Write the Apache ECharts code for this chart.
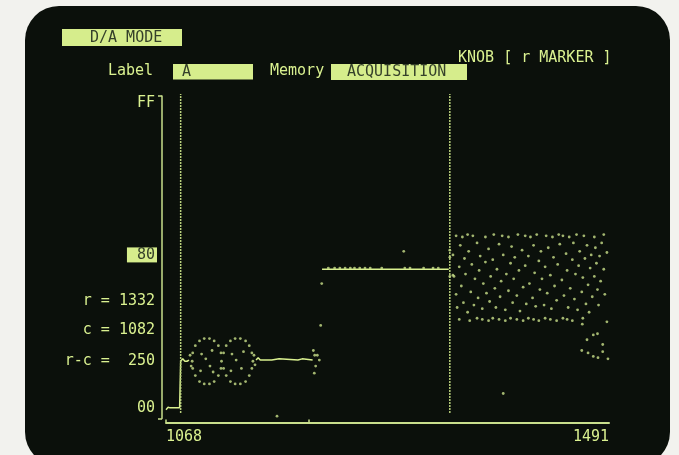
<!DOCTYPE html>
<html><head><meta charset="utf-8">
<script src="https://cdn.jsdelivr.net/npm/echarts@6/dist/echarts.min.js"></script>
<style>html,body{margin:0;padding:0;background:#f2f2ee;}#c{width:679px;height:455px;}</style>
</head><body><div id="c"></div>
<script>
// ---- data ----
const xLabelValues = [1068, 1491];
const xTickValues = [1068, 1204];
const yLabelValues = [0, 128, 255];
const yLabelTexts = ['00', '80', 'FF'];
const yEndTicks = [-9, 261];
const cursorC = 1082;
const cursorR = 1339;
const cursorSpan = [-4.4, 262.6];
const readouts = ['r = 1332', 'c = 1082', 'r-c =  250'];

const traceLow = [[1068,-1.5],[1069,-1],[1070,0.5],[1071,1],[1072,0],[1073,0],[1081,0],[1082,39],[1083,40],[1084,41],[1085,40],[1086,39],[1088,39],[1090,40]];
const traceMid = [[1154,40],[1155,41],[1156,42],[1157,41],[1158,40],[1169,40],[1170,41],[1176,41],[1177,40],[1194,40],[1195,41],[1198,41],[1199,40],[1208,40]];
const traceHigh = [[1217,116],[1338,116]];
const bumpsHigh = [[1223,117],[1229,117],[1234,117],[1239,117],[1244,117],[1248,117],[1253,117],[1258,117],[1263,117],[1274,117],[1296,117],[1301,117],[1314,117],[1323,117],[1328,117]];

const cloudLeft = [[1091,44],[1092,35],
 [1121,39],[1120.5,46],[1118,52],[1114,56],[1109.5,58],[1104.5,58],[1100,56],[1096,52],[1093.5,46],[1093,39],[1093.5,33],[1096,27],[1100,22],[1104.5,20],[1109.5,20],[1114,22],[1118,27],[1120.5,33],
 [1150,46],[1147.5,52],[1144,56],[1139,58],[1134,58],[1129.5,56],[1125.5,52],[1123,46],[1123,33],[1125.5,27],[1129.5,22],[1134,20],[1139,20],[1144,22],[1147.5,27],[1150,33],[1151,39],
 [1102,45],[1106,41],[1110,35],[1113,30],[1101,31],[1112,48],[1131,45],[1135,40],[1140,33],[1130,31],[1142,47],
 [1152,44],[1153,36]];
const transitionDots = [[1208.7,48],[1210,44],[1212.5,44],[1214.4,40],[1210.9,35],[1209.6,29],[1215.7,69],[1216.7,104],
 [1339,132],[1339,126],[1339,110],[1342,111]];
const cloudRight = [
 [1345,144],[1351,143],[1356,145],[1361,144],[1373,143],[1381,145],[1389,144],[1395,143],[1404,145],[1411,144],[1416,143],[1422,145],[1431,144],[1437,143],[1443,145],[1447,144],[1453,143],[1460,145],[1467,144],[1477,143],[1486,145],
 [1348,74],[1358,73],[1365,75],[1370,74],[1376,73],[1380,75],[1386,74],[1392,73],[1397,75],[1403,74],[1409,73],[1414,75],[1419,74],[1424,73],[1430,75],[1435,74],[1441,73],[1447,75],[1451,74],[1456,73],[1466,75],[1489,72],
 [1342,128],[1343,110],[1345,95],[1346,84],[1348,118],[1349,136],[1350,102],[1352,88],[1353,125],[1354,112],[1356,80],[1357,131],[1359,97],[1360,120],[1362,86],[1363,108],[1365,138],[1366,92],[1367,115],[1368,127],[1370,83],[1371,104],[1373,122],[1374,96],[1376,133],[1377,89],[1378,110],[1380,124],[1382,100],[1383,84],[1384,116],[1386,137],[1387,93],[1388,106],[1390,128],[1392,82],[1393,112],[1395,98],[1397,121],[1398,135],[1399,88],[1400,108],[1401,126],[1403,94],[1405,115],[1406,81],[1408,132],[1409,101],[1411,119],[1412,87],[1414,127],[1415,104],[1418,92],[1419,136],[1420,113],[1421,85],[1424,123],[1425,99],[1426,131],[1427,108],[1429,86],[1430,118],[1432,96],[1433,134],[1435,111],[1436,83],[1438,126],[1439,102],[1441,90],[1442,120],[1444,137],[1446,107],[1448,94],[1450,129],[1451,115],[1452,84],[1454,100],[1456,124],[1457,138],[1458,91],[1459,112],[1461,82],[1462,119],[1463,131],[1465,97],[1466,109],[1468,125],[1469,87],[1470,136],[1471,103],[1472,80],[1473,117],[1474,128],[1475,93],[1477,110],[1478,134],[1479,121],[1480,99],[1481,86],[1482,127],[1483,106],[1484,138],[1486,116],[1487,95],[1489,130]];
const cloudLow = [[1470,57],[1476,61],[1480,62],[1485,53],[1465,48],[1471,46],[1476,43],[1480.5,42],[1485,47],[1490,41],[1465.5,70]];
const glitches = [[1174,-7],[1390,12],[1295,131]];

// ---- drawing ----
const FONT = '15px "DejaVu Sans Mono", monospace';
const GREEN = '#daf190';
const DOT = '#c9e08a';
const BOXFILL = '#d6ed8c';
const BOXTEXT = '#35402a';
const SCREEN = '#0b100b';

function txt(t, x, y, align, fill) {
  return {type:'text', z:5, silent:true, style:{text:t, x:x, y:y, fill:fill||GREEN, font:FONT, textAlign:align||'left', textVerticalAlign:'middle'}};
}
function box(x, y, w, h) {
  return {type:'rect', z:4, silent:true, shape:{x:x, y:y, width:w, height:h}, style:{fill:BOXFILL}};
}
const graphics = [
  {type:'rect', z:-100, silent:true, shape:{x:25, y:6, width:645, height:460, r:34}, style:{fill:SCREEN}},
  box(62,29,120,17), txt('D/A MODE', 90, 38, 'left', BOXTEXT),
  txt('Label', 108, 71.5),
  box(173,64,80,15.5), txt('A', 182, 72, 'left', BOXTEXT),
  txt('Memory', 270, 71.5),
  box(331,64,136,16), txt('ACQUISITION', 347, 72, 'left', BOXTEXT),
  txt('KNOB [ r MARKER ]', 458, 58),
  txt(readouts[0], 155, 301.5, 'right'),
  txt(readouts[1], 155, 330.5, 'right'),
  txt(readouts[2], 155, 361.5, 'right')
];

function cursorSeries(name, x) {
  return {
    type:'line', name:name, clip:false, silent:true, z:4, showSymbol:false, symbol:'none',
    data:[[x, cursorSpan[0]], {value:[x, cursorSpan[1]], label:{show:true, position:'top', distance:0, offset:[0,4], formatter:name, color:GREEN, fontFamily:'DejaVu Sans Mono', fontSize:15}}],
    lineStyle:{color:'#b9d07c', width:1.5, type:[2,1]},
    animation:false
  };
}
function lineSeries(data) {
  return {type:'line', data:data, showSymbol:false, symbol:'none', clip:false, silent:true, z:3, lineStyle:{color:GREEN, width:1.5}};
}
function dotSeries(data) {
  return {type:'scatter', data:data, symbolSize:2.8, clip:false, silent:true, z:3, itemStyle:{color:DOT}};
}

const chart = echarts.init(document.getElementById('c'), null, {width:679, height:455});
chart.setOption({
  animation:false,
  backgroundColor:'#f2f2ee',
  graphic:graphics,
  grid:{left:166, top:96, width:443, height:322.6, containLabel:false},
  xAxis:{type:'value', min:1068, max:1491, offset:4,
    axisLine:{show:true, onZero:false, lineStyle:{color:'#c9df8c', width:2}},
    axisTick:{show:true, inside:true, length:3, customValues:xTickValues, lineStyle:{color:'#c9df8c', width:1.5}},
    axisLabel:{show:true, customValues:xLabelValues, margin:7, color:GREEN, fontFamily:'DejaVu Sans Mono', fontSize:15, alignMinLabel:'left', alignMaxLabel:'right', formatter:function(v){ return String(v); }},
    splitLine:{show:false}},
  yAxis:{type:'value', min:yEndTicks[0], max:yEndTicks[1], offset:4,
    axisLine:{show:true, onZero:false, lineStyle:{color:'#c9df8c', width:1.5}},
    axisTick:{show:true, inside:false, length:4, customValues:yEndTicks, lineStyle:{color:'#c9df8c', width:1.5}},
    axisLabel:{show:true, customValues:yLabelValues, margin:5, fontFamily:'DejaVu Sans Mono', fontSize:15,
      formatter:function(v){ const i = yLabelValues.indexOf(v); const t = yLabelTexts[i]; return v === 128 ? '{h|' + t + '}' : '{n|' + t + '}'; },
      rich:{
        n:{color:GREEN, fontFamily:'DejaVu Sans Mono', fontSize:15, padding:[0,2,0,0]},
        h:{color:BOXTEXT, backgroundColor:BOXFILL, fontFamily:'DejaVu Sans Mono', fontSize:15, padding:[0,2,0,10], height:15, lineHeight:15}
      }},
    splitLine:{show:false}},
  series:[
    lineSeries(traceLow), lineSeries(traceMid), lineSeries(traceHigh),
    dotSeries(bumpsHigh), dotSeries(cloudLeft), dotSeries(transitionDots),
    dotSeries(cloudRight), dotSeries(cloudLow), dotSeries(glitches),
    cursorSeries('c', cursorC), cursorSeries('r', cursorR)
  ]
});
</script></body></html>
